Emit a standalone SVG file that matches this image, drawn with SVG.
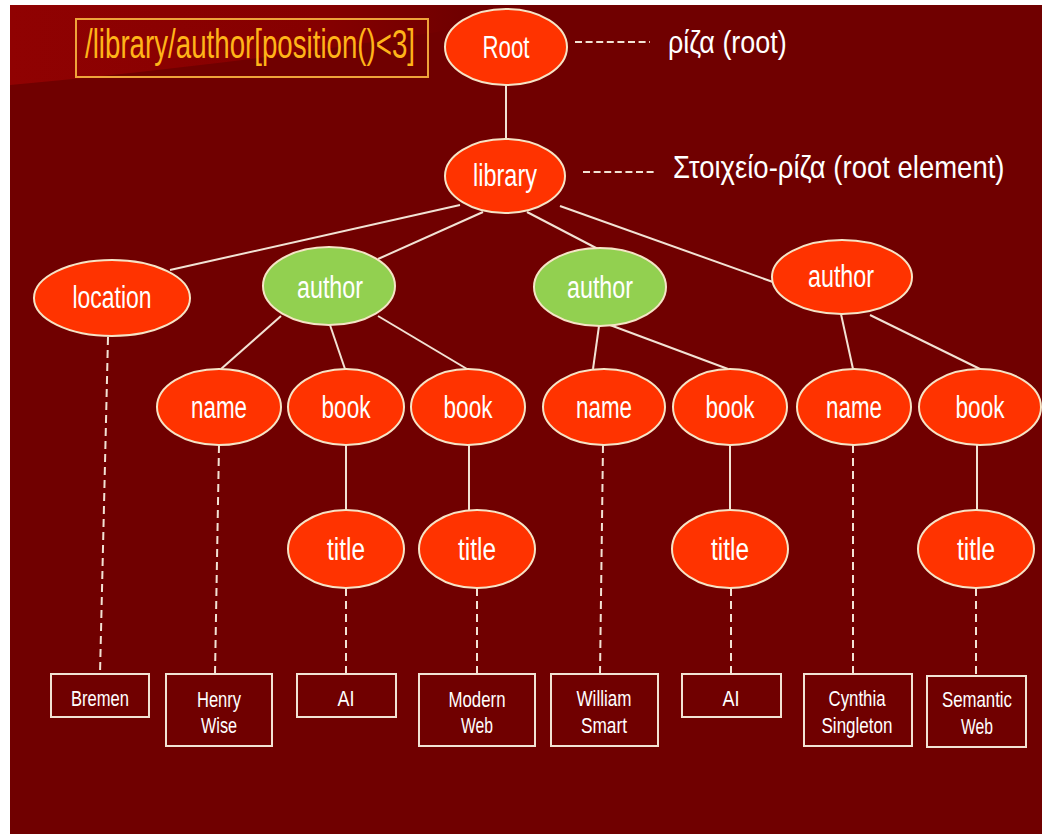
<svg xmlns="http://www.w3.org/2000/svg" width="1042" height="836" viewBox="0 0 1042 836">
<defs>
<linearGradient id="sw" x1="0" y1="0" x2="1" y2="0">
<stop offset="0" stop-color="#900202"/>
<stop offset="0.7" stop-color="#850000"/>
<stop offset="1" stop-color="#700000"/>
</linearGradient>
<style>
.bg{fill:#700000}
.n{fill:#FF3300;stroke:#F6E4C6;stroke-width:2}
.g{fill:#92D050;stroke:#F6E4C6;stroke-width:2}
.nt{font-family:"Liberation Sans",Arial,sans-serif;font-size:31px;fill:#FFFFFF;text-anchor:middle}
.lf{fill:none;stroke:#F2E2D4;stroke-width:2}
.lt{font-family:"Liberation Sans",Arial,sans-serif;font-size:22px;fill:#FFFFFF;text-anchor:middle}
.c{stroke:#F2E2D4;stroke-width:2;fill:none}
.d{stroke:#F2E2D4;stroke-width:2;fill:none;stroke-dasharray:8 5}
.a{stroke:#F2E2D4;stroke-width:2;fill:none;stroke-dasharray:7 3.6}
.gt{font-family:"Liberation Sans",Arial,sans-serif;font-size:32px;fill:#FFFFFF}
</style>
</defs>
<rect x="0" y="0" width="1042" height="836" fill="#FFFFFF"/>
<rect class="bg" x="10" y="5" width="1032" height="829"/>
<path d="M10,5 H460 V28 C320,52 170,70 10,85 Z" fill="url(#sw)"/>

<g id="query">
<rect x="76" y="19" width="352" height="58" fill="none" stroke="#EFA33A" stroke-width="2"/>
<text transform="translate(85,58) scale(0.675,1)" x="0" y="0" font-family="'Liberation Sans',Arial,sans-serif" font-size="41" fill="#FFB419" textLength="489" lengthAdjust="spacingAndGlyphs">/library/author[position()&lt;3]</text>
</g>

<g id="annotations">
<line class="a" x1="575" y1="42" x2="650" y2="42"/>
<text class="gt" transform="translate(668,53) scale(0.83,1)" x="0" y="0" textLength="143" lengthAdjust="spacingAndGlyphs">ρίζα (root)</text>
<line class="a" x1="583" y1="172" x2="657" y2="172"/>
<text class="gt" transform="translate(673,178) scale(0.85,1)" x="0" y="0" textLength="390" lengthAdjust="spacingAndGlyphs">Στοιχείο-ρίζα (root element)</text>
</g>

<g id="connectors">
<line class="c" x1="506" y1="85" x2="506" y2="139"/>
<line class="c" x1="460" y1="205" x2="170" y2="270"/>
<line class="c" x1="483" y1="212" x2="378" y2="259"/>
<line class="c" x1="527" y1="212" x2="598" y2="249"/>
<line class="c" x1="560" y1="206" x2="773" y2="282"/>
<line class="c" x1="281" y1="316" x2="221" y2="369"/>
<line class="c" x1="330" y1="325" x2="345" y2="369"/>
<line class="c" x1="378" y1="316" x2="467" y2="369"/>
<line class="c" x1="599" y1="326" x2="593" y2="369"/>
<line class="c" x1="610" y1="325" x2="728" y2="369"/>
<line class="c" x1="841" y1="314" x2="853" y2="369"/>
<line class="c" x1="870" y1="315" x2="980" y2="369"/>
<line class="c" x1="346" y1="445" x2="346" y2="510"/>
<line class="c" x1="469" y1="445" x2="469" y2="510"/>
<line class="c" x1="730" y1="445" x2="730" y2="510"/>
<line class="c" x1="977" y1="445" x2="977" y2="510"/>
<line class="d" x1="108" y1="337" x2="100" y2="674"/>
<line class="d" x1="219" y1="445" x2="215" y2="674"/>
<line class="d" x1="346" y1="588" x2="346" y2="674"/>
<line class="d" x1="477" y1="588" x2="477" y2="674"/>
<line class="d" x1="603" y1="445" x2="600" y2="674"/>
<line class="d" x1="731" y1="588" x2="731" y2="674"/>
<line class="d" x1="853" y1="445" x2="853" y2="674"/>
<line class="d" x1="976" y1="588" x2="976" y2="676"/>
</g>

<g id="root"><ellipse class="n" cx="506" cy="47" rx="61" ry="38"/><text class="nt" x="506" y="58" textLength="47" lengthAdjust="spacingAndGlyphs">Root</text></g>
<g id="library"><ellipse class="n" cx="505" cy="176" rx="60" ry="37"/><text class="nt" x="505" y="186" textLength="64" lengthAdjust="spacingAndGlyphs">library</text></g>
<g id="location"><ellipse class="n" cx="112" cy="298" rx="78" ry="38"/><text class="nt" x="112" y="308" textLength="79" lengthAdjust="spacingAndGlyphs">location</text></g>
<g id="author1"><ellipse class="g" cx="329" cy="286" rx="66" ry="39"/><text class="nt" x="330" y="298" textLength="66" lengthAdjust="spacingAndGlyphs">author</text></g>
<g id="author2"><ellipse class="g" cx="600" cy="287" rx="66" ry="39"/><text class="nt" x="600" y="298" textLength="66" lengthAdjust="spacingAndGlyphs">author</text></g>
<g id="author3"><ellipse class="n" cx="842" cy="277" rx="70" ry="37"/><text class="nt" x="841" y="287" textLength="66" lengthAdjust="spacingAndGlyphs">author</text></g>
<g id="name1"><ellipse class="n" cx="219" cy="407" rx="62" ry="38"/><text class="nt" x="219" y="418" textLength="56" lengthAdjust="spacingAndGlyphs">name</text></g>
<g id="book1"><ellipse class="n" cx="346" cy="407" rx="58" ry="38"/><text class="nt" x="346" y="418" textLength="49" lengthAdjust="spacingAndGlyphs">book</text></g>
<g id="book2"><ellipse class="n" cx="468" cy="407" rx="57" ry="38"/><text class="nt" x="468" y="418" textLength="49" lengthAdjust="spacingAndGlyphs">book</text></g>
<g id="name2"><ellipse class="n" cx="604" cy="407" rx="61" ry="38"/><text class="nt" x="604" y="418" textLength="56" lengthAdjust="spacingAndGlyphs">name</text></g>
<g id="book3"><ellipse class="n" cx="730" cy="407" rx="57" ry="38"/><text class="nt" x="730" y="418" textLength="49" lengthAdjust="spacingAndGlyphs">book</text></g>
<g id="name3"><ellipse class="n" cx="854" cy="407" rx="57" ry="38"/><text class="nt" x="854" y="418" textLength="56" lengthAdjust="spacingAndGlyphs">name</text></g>
<g id="book4"><ellipse class="n" cx="980" cy="407" rx="61" ry="38"/><text class="nt" x="980" y="418" textLength="49" lengthAdjust="spacingAndGlyphs">book</text></g>
<g id="title1"><ellipse class="n" cx="346" cy="549" rx="58" ry="39"/><text class="nt" x="346" y="560" textLength="38" lengthAdjust="spacingAndGlyphs">title</text></g>
<g id="title2"><ellipse class="n" cx="477" cy="549" rx="58" ry="39"/><text class="nt" x="477" y="560" textLength="38" lengthAdjust="spacingAndGlyphs">title</text></g>
<g id="title3"><ellipse class="n" cx="730" cy="549" rx="58" ry="39"/><text class="nt" x="730" y="560" textLength="38" lengthAdjust="spacingAndGlyphs">title</text></g>
<g id="title4"><ellipse class="n" cx="976" cy="549" rx="58" ry="39"/><text class="nt" x="976" y="560" textLength="38" lengthAdjust="spacingAndGlyphs">title</text></g>

<g id="leaf-bremen"><rect class="lf" x="51" y="674" width="98" height="43"/><text class="lt" x="100" y="706" textLength="58" lengthAdjust="spacingAndGlyphs">Bremen</text></g>
<g id="leaf-henry"><rect class="lf" x="166" y="674" width="106" height="72"/><text class="lt" x="219" y="707" textLength="44" lengthAdjust="spacingAndGlyphs">Henry</text><text class="lt" x="219" y="733" textLength="36" lengthAdjust="spacingAndGlyphs">Wise</text></g>
<g id="leaf-ai1"><rect class="lf" x="297" y="674" width="99" height="43"/><text class="lt" x="346" y="706" textLength="17" lengthAdjust="spacingAndGlyphs">AI</text></g>
<g id="leaf-modern"><rect class="lf" x="419" y="674" width="116" height="72"/><text class="lt" x="477" y="707" textLength="57" lengthAdjust="spacingAndGlyphs">Modern</text><text class="lt" x="477" y="733" textLength="32" lengthAdjust="spacingAndGlyphs">Web</text></g>
<g id="leaf-william"><rect class="lf" x="551" y="674" width="107" height="72"/><text class="lt" x="604" y="706" textLength="55" lengthAdjust="spacingAndGlyphs">William</text><text class="lt" x="604" y="733" textLength="46" lengthAdjust="spacingAndGlyphs">Smart</text></g>
<g id="leaf-ai2"><rect class="lf" x="682" y="674" width="99" height="43"/><text class="lt" x="731" y="706" textLength="17" lengthAdjust="spacingAndGlyphs">AI</text></g>
<g id="leaf-cynthia"><rect class="lf" x="804" y="674" width="108" height="72"/><text class="lt" x="857" y="706" textLength="57" lengthAdjust="spacingAndGlyphs">Cynthia</text><text class="lt" x="857" y="733" textLength="71" lengthAdjust="spacingAndGlyphs">Singleton</text></g>
<g id="leaf-semantic"><rect class="lf" x="927" y="676" width="99" height="71"/><text class="lt" x="977" y="707" textLength="70" lengthAdjust="spacingAndGlyphs">Semantic</text><text class="lt" x="977" y="734" textLength="32" lengthAdjust="spacingAndGlyphs">Web</text></g>
</svg>
